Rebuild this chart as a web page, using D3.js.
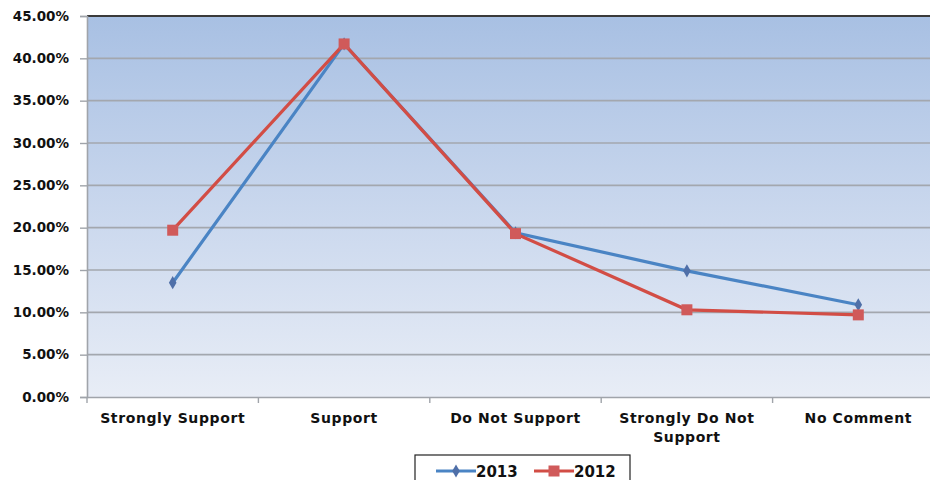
<!DOCTYPE html>
<html><head><meta charset="utf-8">
<script src="https://cdn.jsdelivr.net/npm/d3@7"></script>
<style>body{margin:0;background:#fff}svg{display:block}</style>
</head><body><svg id="c" width="930" height="480"></svg>
<script>
const categories = ["Strongly Support","Support","Do Not Support","Strongly Do Not Support","No Comment"];
const catLines = [["Strongly Support"],["Support"],["Do Not Support"],["Strongly Do Not","Support"],["No Comment"]];
const values2013 = [13.5, 41.7, 19.4, 14.9, 10.9];
const values2012 = [19.7, 41.7, 19.3, 10.3, 9.7];
const yTicks = [0,5,10,15,20,25,30,35,40,45];
const seriesNames = ["2013","2012"];

const FONT = "'DejaVu Sans', Verdana, sans-serif";
const svg = d3.select("#c");
const L=87, T=16, R=944, B=397;
const x = d3.scaleBand().domain(categories).range([L,R]);
const y = d3.scaleLinear().domain([0,45]).range([B,T]);

const defs = svg.append("defs");
const g = defs.append("linearGradient").attr("id","bg").attr("x1",0).attr("y1",0).attr("x2",0).attr("y2",1);
g.append("stop").attr("offset","0%").attr("stop-color","#a8c0e3");
g.append("stop").attr("offset","55%").attr("stop-color","#ccd9ee");
g.append("stop").attr("offset","100%").attr("stop-color","#e8edf6");
svg.append("rect").attr("x",L).attr("y",T).attr("width",R-L).attr("height",B-T).attr("fill","url(#bg)");

// gridlines
svg.append("g").selectAll("line").data(yTicks.filter(d=>d>0&&d<45)).join("line")
  .attr("x1",L).attr("x2",R).attr("y1",d=>y(d)).attr("y2",d=>y(d))
  .attr("stroke","#a3a7ae").attr("stroke-width",1.6);
svg.append("line").attr("x1",L).attr("x2",R).attr("y1",T).attr("y2",T).attr("stroke","#3a3a3a").attr("stroke-width",1.8);

// y axis
const ya = svg.append("g").attr("transform",`translate(${L},0)`)
  .call(d3.axisLeft(y).tickValues(yTicks).tickSize(7).tickPadding(11).tickFormat(d=>d.toFixed(2)+"%"));
ya.select(".domain").attr("stroke","#a0a4aa").attr("stroke-width",1.6);
ya.selectAll(".tick line").attr("stroke","#a0a4aa").attr("stroke-width",1.4);
ya.selectAll("text").attr("font-family",FONT).attr("font-weight","bold").attr("font-size",13.5).attr("fill","#111");

// x axis
const xa = svg.append("g").attr("transform",`translate(0,${B})`)
  .call(d3.axisBottom(x).tickSize(0).tickFormat(""));
xa.select(".domain").attr("stroke","#a0a4aa").attr("stroke-width",1.6);
const bounds = categories.map(c=>x(c)).concat([R]);
xa.selectAll(".bt").data(bounds).join("line").attr("class","bt")
  .attr("x1",d=>d).attr("x2",d=>d).attr("y1",0).attr("y2",6).attr("stroke","#a0a4aa").attr("stroke-width",1.4);
svg.append("g").selectAll("text").data(categories).join("text")
  .attr("x",d=>x(d)+x.bandwidth()/2).attr("y",423).attr("text-anchor","middle")
  .attr("font-family",FONT).attr("font-weight","bold").attr("font-size",14).attr("letter-spacing",0.6).attr("fill","#111")
  .each(function(d,i){
    const t=d3.select(this);
    catLines[i].forEach((ln,j)=>t.append("tspan").attr("x",x(d)+x.bandwidth()/2).attr("dy",j?19:0).text(ln));
  });

const line = d3.line().x((d,i)=>x(categories[i])+x.bandwidth()/2).y(d=>y(d));
const c13="#4a84c4", c12="#d24d45";
svg.append("path").datum(values2013).attr("d",line).attr("fill","none").attr("stroke",c13).attr("stroke-width",3.2);
svg.append("path").datum(values2012).attr("d",line).attr("fill","none").attr("stroke",c12).attr("stroke-width",3.2);
const dia = d3.symbol().type(d3.symbolDiamond).size(50);
svg.append("g").selectAll("path").data(values2013).join("path")
  .attr("transform",(d,i)=>`translate(${x(categories[i])+x.bandwidth()/2},${y(d)})`)
  .attr("d",dia).attr("fill","#4f6fa8");
svg.append("g").selectAll("rect").data(values2012).join("rect")
  .attr("x",(d,i)=>x(categories[i])+x.bandwidth()/2-5.5).attr("y",d=>y(d)-5.5)
  .attr("width",11).attr("height",11).attr("fill","#d05a5a");

// legend
const lg = svg.append("g");
lg.append("rect").attr("x",415).attr("y",455).attr("width",215).attr("height",30).attr("fill","#fff").attr("stroke","#222").attr("stroke-width",1.2);
const items=[{n:seriesNames[0],c:c13,x0:436},{n:seriesNames[1],c:c12,x0:534}];
items.forEach((it,i)=>{
  lg.append("line").attr("x1",it.x0).attr("x2",it.x0+40).attr("y1",471).attr("y2",471).attr("stroke",it.c).attr("stroke-width",3.2);
  if(i===0) lg.append("path").attr("transform",`translate(${it.x0+20},471)`).attr("d",dia).attr("fill","#4f6fa8");
  else lg.append("rect").attr("x",it.x0+14.5).attr("y",465.5).attr("width",11).attr("height",11).attr("fill","#d05a5a");
  lg.append("text").attr("x",it.x0+40).attr("y",477).attr("font-family",FONT).attr("font-weight","bold").attr("font-size",15).attr("fill","#111").text(it.n);
});
</script></body></html>
